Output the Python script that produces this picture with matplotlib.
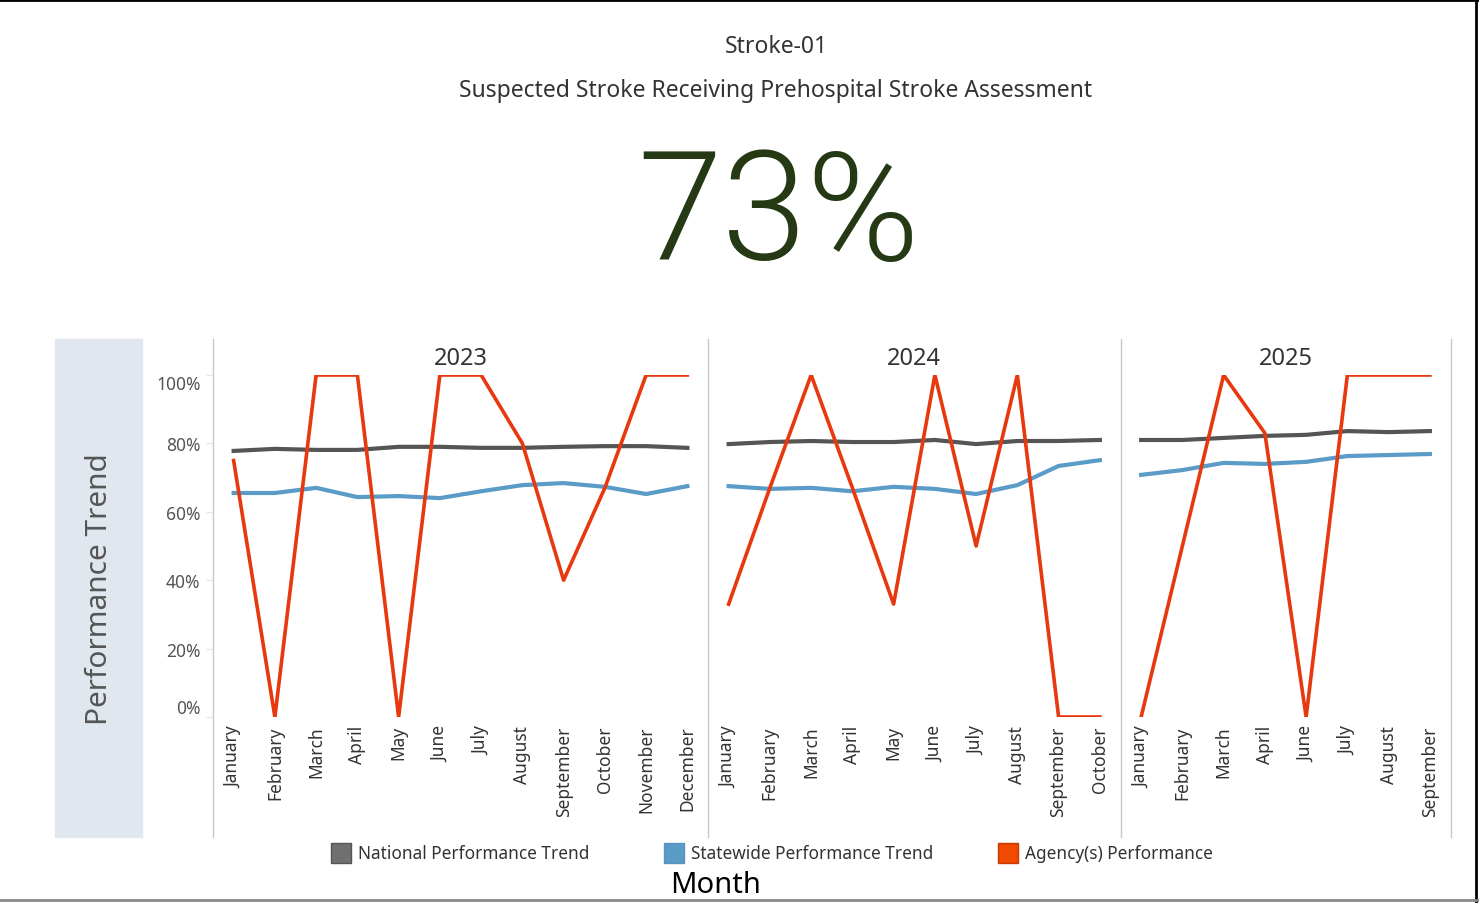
import matplotlib
matplotlib.use("Agg")
import matplotlib.pyplot as plt
from matplotlib.lines import Line2D
from matplotlib.patches import Rectangle

W, H = 1479, 904

years = ["2023", "2024", "2025"]
months = {
    "2023": ["January", "February", "March", "April", "May", "June", "July",
             "August", "September", "October", "November", "December"],
    "2024": ["January", "February", "March", "April", "May", "June", "July",
             "August", "September", "October"],
    "2025": ["January", "February", "March", "April", "June", "July",
             "August", "September"],
}
national = {
    "2023": [77.8, 78.4, 78.1, 78.1, 79.0, 79.0, 78.7, 78.7, 79.0, 79.2, 79.2, 78.7],
    "2024": [79.8, 80.4, 80.7, 80.4, 80.4, 81.0, 79.8, 80.7, 80.7, 81.0],
    "2025": [81.0, 81.0, 81.6, 82.2, 82.5, 83.6, 83.3, 83.6],
}
statewide = {
    "2023": [65.5, 65.5, 67.0, 64.3, 64.6, 64.0, 66.0, 67.8, 68.4, 67.3, 65.2, 67.5],
    "2024": [67.5, 66.7, 67.0, 66.0, 67.3, 66.7, 65.2, 67.8, 73.4, 75.1],
    "2025": [70.8, 72.2, 74.3, 74.0, 74.6, 76.3, 76.6, 76.9],
}
agency = {
    "2023": [75, 0, 100, 100, 0, 100, 100, 80, 40, 67, 100, 100],
    "2024": [33, 67, 100, 67, 33, 100, 50, 100, 0, 0],
    "2025": [0, 50, 100, 83, 0, 100, 100, 100],
}
overall = "73%"
yticks = [0, 20, 40, 60, 80, 100]

c_nat = "#555555"
c_state = "#5b9bc8"
c_agency = "#e8380d"
sep = "#c8c8c8"

plt.rcParams["font.family"] = ["Noto Sans", "DejaVu Sans"]

fig = plt.figure(figsize=(W / 100, H / 100), dpi=100)


def box(x0, y0, x1, y1):
    return [x0 / W, 1 - y1 / H, (x1 - x0) / W, (y1 - y0) / H]


def fx(x):
    return x / W


def fy(y):
    return 1 - y / H


# titles
fig.text(fx(776), fy(47), "Stroke-01", ha="center", va="center", fontsize=16.5, color="#333333")
fig.text(fx(776), fy(91), "Suspected Stroke Receiving Prehospital Stroke Assessment",
         ha="center", va="center", fontsize=16.5, color="#333333")
fig.text(fx(779), fy(218), overall, ha="center", va="center", fontsize=110,
         color="#253a14", family=["Roboto", "DejaVu Sans"], fontweight=300)

# left band
fig.add_artist(Rectangle((fx(55), fy(838)), fx(142) - fx(55), fy(340) - fy(838),
                         transform=fig.transFigure, color="#e1e7ee", zorder=0))
fig.text(fx(100), fy(589), "Performance Trend", rotation=90, ha="center", va="center",
         fontsize=21.5, color="#555555")

unit = 41.25
left = 213
for i, yr in enumerate(years):
    n = len(months[yr])
    right = left + n * unit
    ax = fig.add_axes(box(left, 376, right, 718))
    x = list(range(n))
    ax.plot(x, national[yr], color=c_nat, lw=3, zorder=3)
    ax.plot(x, statewide[yr], color=c_state, lw=3, zorder=3)
    ax.plot(x, agency[yr], color=c_agency, lw=2.6, zorder=4)
    ax.set_xlim(-0.5, n - 0.5)
    ax.set_ylim(0, 100)
    for s in ax.spines.values():
        s.set_visible(False)
    ax.set_xticks(x)
    ax.set_xticklabels(months[yr], rotation=90, va="top", ha="center",
                       fontsize=12.5, color="#333333")
    ax.tick_params(axis="x", length=0, pad=6)
    if i == 0:
        ax.set_yticks(yticks)
        labels = ax.set_yticklabels([f"{v}%" for v in yticks], fontsize=12.5, color="#555555")
        labels[0].set_va("bottom")
        labels[-1].set_va("top")
        ax.tick_params(axis="y", length=5, color="#e6e6e6", pad=4)
    else:
        ax.set_yticks([])
    ax.text(0.5, 1.0 + 17 / 342, yr, transform=ax.transAxes, ha="center", va="center",
            fontsize=17, color="#333333")
    ax.patch.set_alpha(0)
    fig.add_artist(Line2D([fx(left), fx(left)], [fy(340), fy(838)],
                          transform=fig.transFigure, color=sep, lw=1))
    left = right
fig.add_artist(Line2D([fx(left), fx(left)], [fy(340), fy(838)],
                      transform=fig.transFigure, color=sep, lw=1))

# legend
entries = [(331, "#707070", "#555555", "National Performance Trend"),
           (664, c_state, "#5a93bf", "Statewide Performance Trend"),
           (998, "#f04a00", "#c83a00", "Agency(s) Performance")]
for x0, fc, ec, txt in entries:
    fig.add_artist(Rectangle((fx(x0), fy(864)), fx(20), fy(844) - fy(864),
                             transform=fig.transFigure, facecolor=fc, edgecolor=ec, lw=1))
    fig.text(fx(x0 + 27), fy(854), txt, ha="left", va="center", fontsize=12.4, color="#333333")

fig.text(fx(716), fy(886), "Month", ha="center", va="center", fontsize=21, color="black")

# frame
fig.add_artist(Line2D([0, 1], [fy(1), fy(1)], transform=fig.transFigure, color="black", lw=2))
fig.add_artist(Line2D([fx(1476), fx(1476)], [0, 1], transform=fig.transFigure, color="black", lw=2))
fig.add_artist(Line2D([0, 1], [fy(901), fy(901)], transform=fig.transFigure, color="#888888", lw=2))

fig.savefig("out.png", dpi=100)
